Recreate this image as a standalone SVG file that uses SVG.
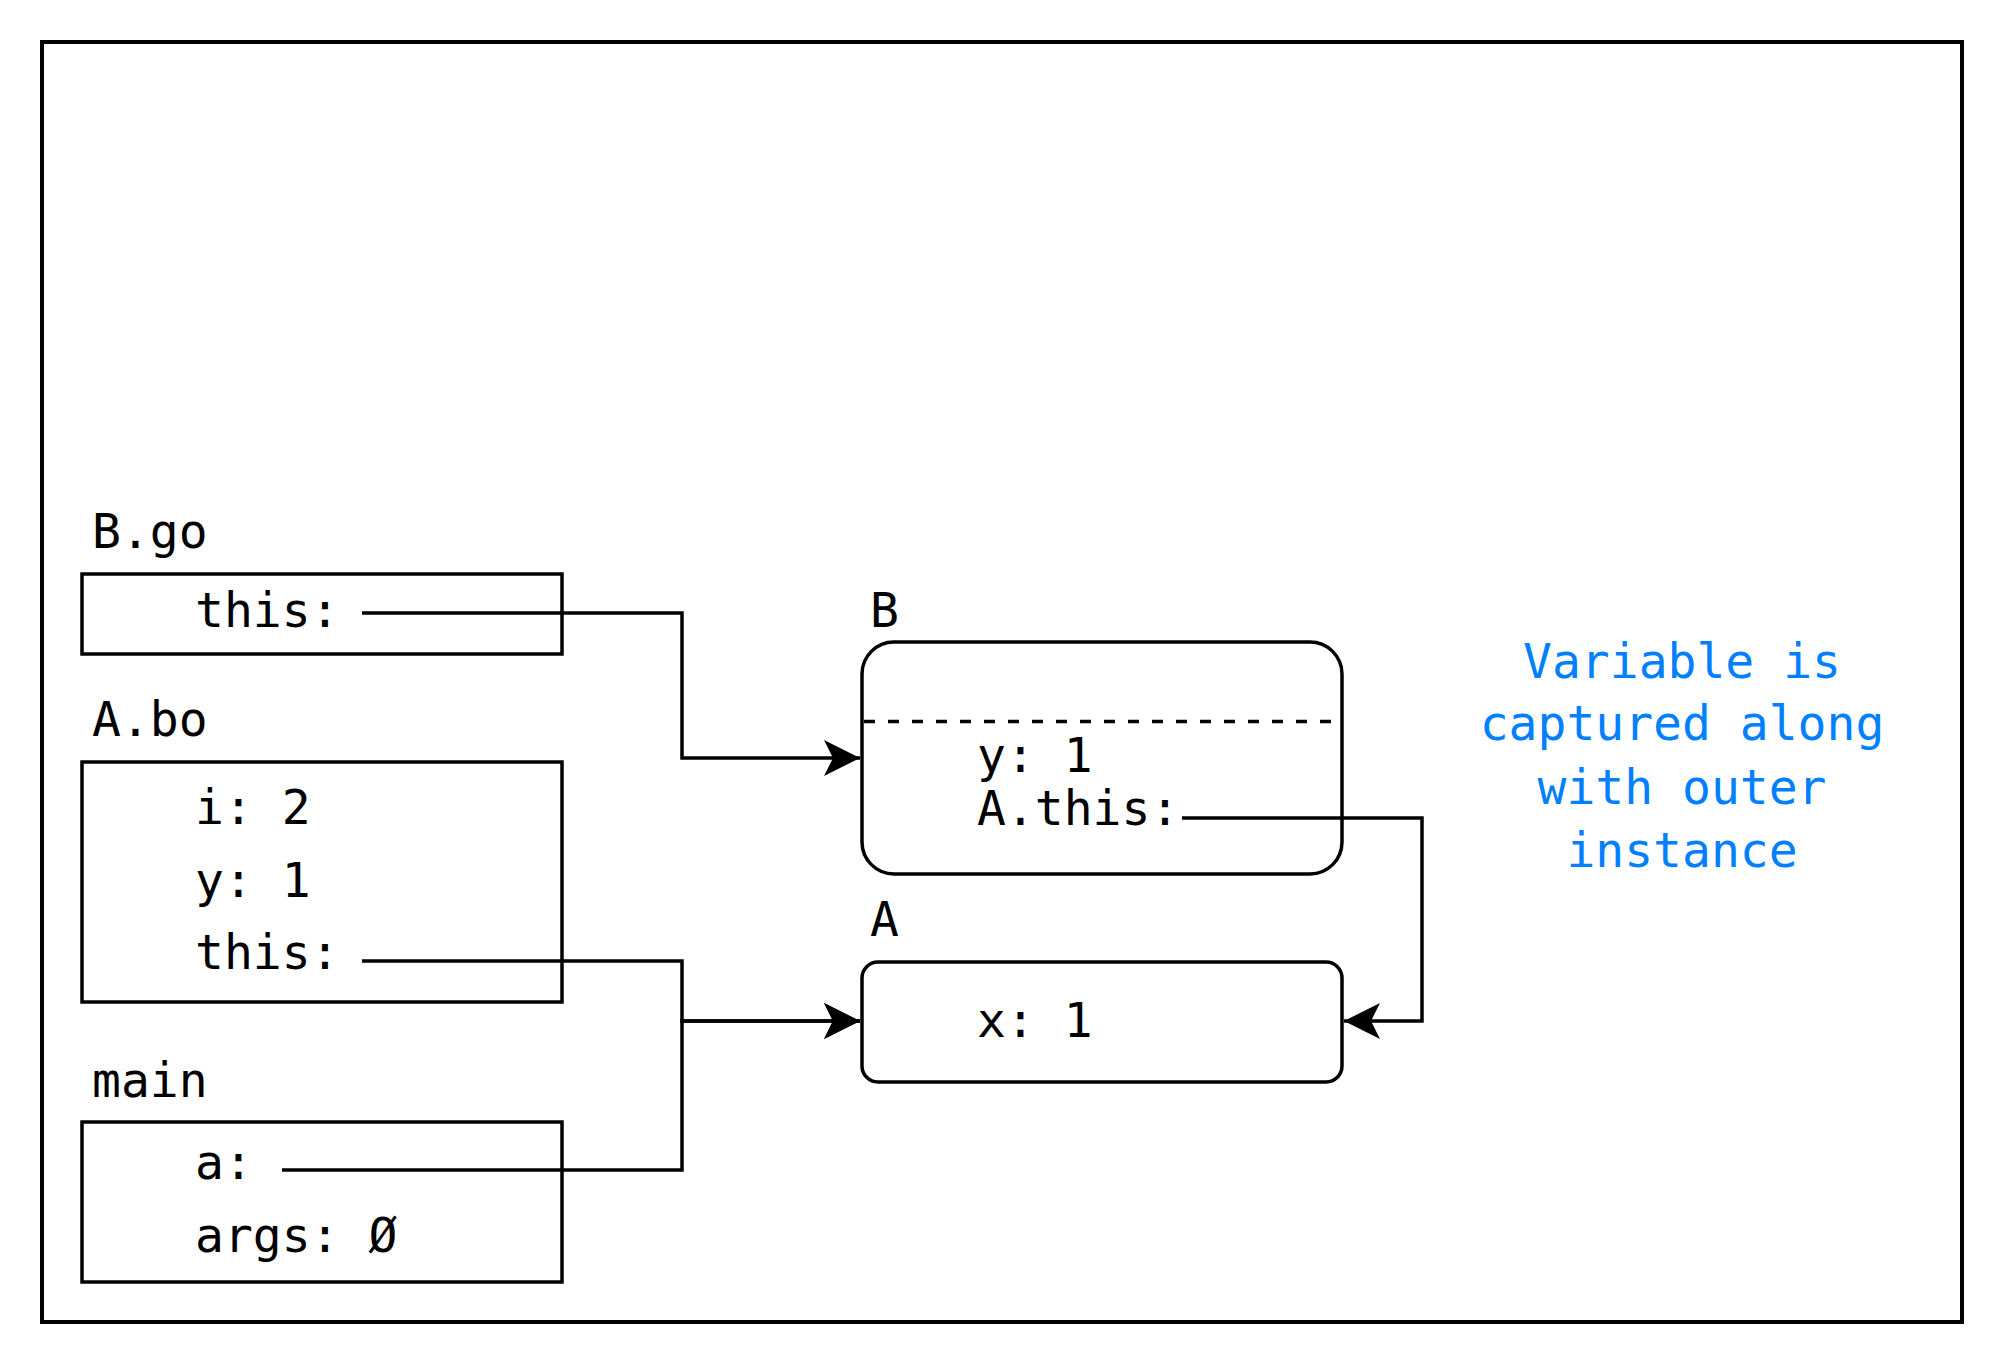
<svg xmlns="http://www.w3.org/2000/svg" width="2008" height="1368" viewBox="0 0 2008 1368">
<style>
.box{fill:#fff;stroke:#000;stroke-width:3.5}
.t{font-family:"DejaVu Sans Mono","Liberation Mono",monospace;font-size:48px;fill:#000}
.note{font-family:"DejaVu Sans Mono","Liberation Mono",monospace;font-size:48px;fill:#007FFF;text-anchor:middle}
.c{fill:none;stroke:#000;stroke-width:3.5}
</style>
<defs>
<marker id="arr" markerUnits="userSpaceOnUse" markerWidth="40" markerHeight="40" viewBox="-38 -20 40 40" refX="0" refY="0" orient="auto">
<path d="M0,0 L-36,-18 L-27,0 L-36,18 Z" fill="#000"/>
</marker>
</defs>
<rect width="2008" height="1368" fill="#fff"/>
<rect id="frame" x="42" y="42" width="1920" height="1280" fill="none" stroke="#000" stroke-width="4"/>
<g id="bgo">
<text class="t" x="92" y="548">B.go</text>
<rect class="box" x="82" y="574" width="480" height="80"/>
<text class="t" x="195" y="627">this:</text>
</g>
<g id="abo">
<text class="t" x="92" y="736">A.bo</text>
<rect class="box" x="82" y="762" width="480" height="240"/>
<text class="t" x="195" y="824">i: 2</text>
<text class="t" x="195" y="897">y: 1</text>
<text class="t" x="195" y="969">this:</text>
</g>
<g id="main">
<text class="t" x="92" y="1097">main</text>
<rect class="box" x="82" y="1122" width="480" height="160"/>
<text class="t" x="195" y="1179">a:</text>
<text class="t" x="195" y="1252">args: Ø</text>
</g>
<g id="B">
<text class="t" x="870" y="627">B</text>
<rect class="box" x="862" y="642" width="480" height="232" rx="32" ry="32"/>
<line x1="864" y1="721.5" x2="1336" y2="721.5" stroke="#000" stroke-width="3.5" stroke-dasharray="11 13"/>
<text class="t" x="977" y="772">y: 1</text>
<text class="t" x="977" y="825">A.this:</text>
</g>
<g id="A">
<text class="t" x="870" y="936">A</text>
<rect class="box" x="862" y="962" width="480" height="120" rx="16" ry="16"/>
<text class="t" x="977" y="1037">x: 1</text>
</g>
<g id="note">
<text class="note" x="1682" y="678">Variable is</text>
<text class="note" x="1682" y="740">captured along</text>
<text class="note" x="1682" y="804">with outer</text>
<text class="note" x="1682" y="867">instance</text>
</g>
<g id="connectors">
<path class="c" d="M362,613 H682 V758 H860" marker-end="url(#arr)"/>
<path class="c" d="M362,961 H682 V1021 H860" marker-end="url(#arr)"/>
<path class="c" d="M282,1170 H682 V1021 H860" marker-end="url(#arr)"/>
<path class="c" d="M1182,818 H1422 V1021 H1344" marker-end="url(#arr)"/>
</g>
</svg>
